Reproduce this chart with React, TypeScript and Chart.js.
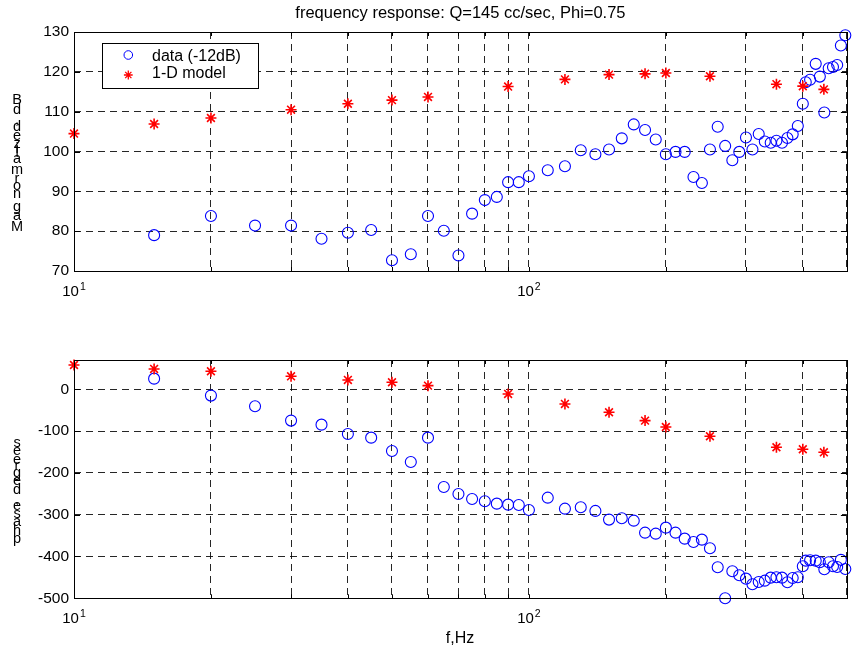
import React, { useEffect, useRef } from "react";
import { Chart, registerables } from "chart.js";

Chart.register(...registerables);

// ---------- data ----------
const dataFreq = [15, 20, 25, 30, 35, 40, 45, 50, 55, 60, 65, 70, 75, 80, 85, 90, 95, 100, 110, 120, 130, 140, 150, 160, 170, 180, 190, 200, 210, 220, 230, 240, 250, 260, 270, 280, 290, 300, 310, 320, 330, 340, 350, 360, 370, 380, 390, 400, 406, 415, 427, 436, 446, 456, 466, 476, 485, 496];
const dataMag = [79.0, 83.8, 81.4, 81.4, 78.1, 79.6, 80.3, 72.7, 74.2, 83.8, 80.1, 73.9, 84.4, 87.8, 88.6, 92.3, 92.3, 93.8, 95.3, 96.3, 100.3, 99.3, 100.5, 103.3, 106.8, 105.4, 103.0, 99.3, 99.9, 99.9, 93.6, 92.1, 100.5, 106.2, 101.4, 97.8, 99.9, 103.5, 100.5, 104.4, 102.5, 102.2, 102.7, 102.2, 103.4, 104.3, 106.4, 112.0, 117.4, 118.0, 122.0, 118.8, 109.8, 120.9, 121.2, 121.7, 126.6, 129.2];
const dataPhase = [25.4, -15.2, -40.7, -75, -84.6, -106.9, -115.7, -147.6, -173.9, -115.7, -233.7, -250.5, -262.5, -268, -273.6, -276, -276.8, -288.7, -259.3, -285.6, -282.3, -291, -311.8, -308.6, -314.3, -343, -345.4, -331, -343, -357.3, -365.3, -359.7, -380.4, -425.8, -500, -435.4, -444.9, -453, -466.5, -461, -457.8, -450.6, -449.7, -450.6, -461.6, -451.4, -449.7, -423.4, -410, -409, -410, -413.8, -430.6, -413.8, -423.4, -425, -408, -429.8];

const modelFreq = [10, 15, 20, 30, 40, 50, 60, 90, 120, 150, 180, 200, 250, 350, 400, 445];
const modelMag = [104.5, 106.9, 108.4, 110.5, 112.0, 112.9, 113.7, 116.3, 118.1, 119.3, 119.5, 119.7, 118.9, 116.9, 116.4, 115.6];
const modelPhase = [58, 48.6, 43, 31, 22.3, 16.7, 8.7, -11.2, -35.1, -55, -75, -90.2, -112.5, -138.8, -143.6, -150.8];

const freqGrid = [10, 20, 30, 40, 50, 60, 70, 80, 90, 100, 200, 300, 400, 500];
const freqLabels = [10, 100];
const magTicks = [70, 80, 90, 100, 110, 120, 130];
const phaseTicks = [-500, -400, -300, -200, -100, 0];

const titleText = "frequency response: Q=145 cc/sec, Phi=0.75";
const magLabel = "Mag normalized, dB";
const phaseLabel = "phase, degrees";
const xLabel = "f,Hz";
const legendLabels = ["data (-12dB)", "1-D model"];

const FONT = "'Liberation Sans', Arial, sans-serif";
const BLUE = "#0000ff";
const RED = "#ff0000";

function stackedLabel(ctx: CanvasRenderingContext2D, text: string, x: number, yFirst: number, yLast: number, size: number) {
  ctx.save();
  ctx.font = `${size}px ${FONT}`;
  ctx.fillStyle = "#000";
  ctx.textAlign = "center";
  ctx.textBaseline = "middle";
  const chars = Array.from(text);
  const w = chars.map((c) => ctx.measureText(c).width);
  const raw: number[] = [0];
  for (let i = 1; i < chars.length; i++) raw.push(raw[i - 1] + (w[i - 1] + w[i]) / 2);
  const total = raw[raw.length - 1];
  const k = (yFirst - yLast) / total;
  chars.forEach((c, i) => {
    if (c !== " ") ctx.fillText(c, x, yFirst - raw[i] * k);
  });
  ctx.restore();
}

function drawStar(ctx: CanvasRenderingContext2D, x: number, y: number, r: number) {
  ctx.beginPath();
  ctx.moveTo(x - r, y);
  ctx.lineTo(x + r, y);
  ctx.moveTo(x, y - r);
  ctx.lineTo(x, y + r);
  const d = r * Math.SQRT1_2;
  ctx.moveTo(x - d, y - d);
  ctx.lineTo(x + d, y + d);
  ctx.moveTo(x - d, y + d);
  ctx.lineTo(x + d, y - d);
  ctx.stroke();
}

function makeDecor(opts: { top: boolean }) {
  return {
    id: "decor" + (opts.top ? "Top" : "Bottom"),
    afterDraw(chart: any) {
      const ctx: CanvasRenderingContext2D = chart.ctx;
      const a = chart.chartArea;
      const xs = chart.scales.x;
      const ys = chart.scales.y;
      ctx.save();
      // inner tick marks
      ctx.strokeStyle = "#000";
      ctx.lineWidth = 1;
      ctx.beginPath();
      const yt = opts.top ? magTicks : phaseTicks;
      yt.forEach((v) => {
        const py = Math.round(ys.getPixelForValue(v)) + 0.5;
        ctx.moveTo(a.left, py);
        ctx.lineTo(a.left + 6, py);
        ctx.moveTo(a.right, py);
        ctx.lineTo(a.right - 6, py);
      });
      freqGrid.forEach((v) => {
        const px = Math.round(xs.getPixelForValue(v)) + 0.5;
        ctx.moveTo(px, a.bottom);
        ctx.lineTo(px, a.bottom - 4);
        ctx.moveTo(px, a.top);
        ctx.lineTo(px, a.top + 4);
      });
      ctx.stroke();
      // box
      ctx.strokeRect(Math.round(a.left) + 0.5, Math.round(a.top) + 0.5, Math.round(a.right - a.left), Math.round(a.bottom - a.top));

      // x tick labels 10^n
      freqLabels.forEach((v) => {
        const px = xs.getPixelForValue(v);
        const exp = String(Math.round(Math.log10(v)));
        ctx.font = `15px ${FONT}`;
        const wb = ctx.measureText("10").width;
        ctx.font = `10.5px ${FONT}`;
        const we = ctx.measureText(exp).width;
        const start = px - (wb + we + 1) / 2;
        const base = a.bottom + 24.7;
        ctx.fillStyle = "#000";
        ctx.textAlign = "left";
        ctx.textBaseline = "alphabetic";
        ctx.font = `15px ${FONT}`;
        ctx.fillText("10", start, base);
        ctx.font = `10.5px ${FONT}`;
        ctx.fillText(exp, start + wb + 1, base - 6);
      });

      if (opts.top) {
        // title
        ctx.font = `16.5px ${FONT}`;
        ctx.textAlign = "center";
        ctx.textBaseline = "alphabetic";
        ctx.fillStyle = "#000";
        ctx.fillText(titleText, (a.left + a.right) / 2, 18.3);
        // y label
        stackedLabel(ctx, magLabel, 17, 226.7, 100.2, 14.5);
        // legend
        const lx = 102, ly = 43, lw = 156, lh = 45;
        ctx.fillStyle = "#fff";
        ctx.fillRect(lx, ly, lw, lh);
        ctx.strokeStyle = "#000";
        ctx.lineWidth = 1;
        ctx.strokeRect(lx + 0.5, ly + 0.5, lw, lh);
        ctx.strokeStyle = BLUE;
        ctx.beginPath();
        ctx.arc(128.3, 55, 4.3, 0, Math.PI * 2);
        ctx.stroke();
        ctx.strokeStyle = RED;
        ctx.lineWidth = 1.3;
        drawStar(ctx, 128.3, 75, 4.4);
        ctx.fillStyle = "#000";
        ctx.font = `16px ${FONT}`;
        ctx.textAlign = "left";
        ctx.textBaseline = "alphabetic";
        ctx.fillText(legendLabels[0], 152, 61.3);
        ctx.fillText(legendLabels[1], 152, 77.6);
      } else {
        ctx.font = `16px ${FONT}`;
        ctx.textAlign = "center";
        ctx.textBaseline = "alphabetic";
        ctx.fillStyle = "#000";
        ctx.fillText(xLabel, 460, 343);
        stackedLabel(ctx, phaseLabel, 17, 239, 143.2, 14.5);
      }
      ctx.restore();
    },
  };
}

function buildConfig(top: boolean, canvasH: number, padTop: number, chartBottom: number): any {
  const circles = dataFreq.map((f, i) => ({ x: f, y: top ? dataMag[i] : dataPhase[i] }));
  const stars = modelFreq.map((f, i) => ({ x: f, y: top ? modelMag[i] : modelPhase[i] }));
  const yTicks = top ? magTicks : phaseTicks;
  return {
    type: "scatter",
    data: {
      datasets: [
        {
          label: legendLabels[1],
          data: stars,
          pointStyle: "star",
          pointRadius: 5.5,
          borderColor: RED,
          backgroundColor: RED,
          borderWidth: 1.6,
          clip: false,
          order: 0,
        },
        {
          label: legendLabels[0],
          data: circles,
          pointStyle: "circle",
          pointRadius: 5.5,
          borderColor: BLUE,
          backgroundColor: "rgba(0,0,0,0)",
          borderWidth: 1.1,
          clip: false,
          order: 1,
        },
      ],
    },
    options: {
      responsive: false,
      animation: false,
      devicePixelRatio: 1,
      layout: { padding: { top: padTop, left: 0, right: 3.5, bottom: 0 } },
      plugins: { legend: { display: false }, tooltip: { enabled: false }, title: { display: false } },
      events: [],
      scales: {
        x: {
          type: "logarithmic",
          min: 10,
          max: 500,
          afterBuildTicks: (s: any) => {
            s.ticks = freqGrid.map((v) => ({ value: v }));
          },
          afterFit: (s: any) => {
            s.height = canvasH - chartBottom;
          },
          ticks: { display: false },
          grid: { color: "rgba(0,0,0,0.85)", lineWidth: 1, drawTicks: false },
          border: { display: false, dash: [7, 5] },
        },
        y: {
          type: "linear",
          min: top ? 70 : -500,
          max: top ? 130 : 70,
          afterBuildTicks: (s: any) => {
            s.ticks = yTicks.map((v) => ({ value: v }));
          },
          afterFit: (s: any) => {
            s.width = 74;
          },
          ticks: {
            padding: 5,
            color: "#000",
            font: { family: FONT, size: 15.5 },
            callback: (v: any) => String(v),
          },
          grid: { color: "rgba(0,0,0,0.85)", lineWidth: 1, drawTicks: false },
          border: { display: false, dash: [7, 5] },
        },
      },
    },
    plugins: [makeDecor({ top })],
  };
}

function ChartCanvas(props: { top: boolean; y: number; h: number; padTop: number; chartBottom: number }) {
  const ref = useRef<HTMLCanvasElement>(null);
  useEffect(() => {
    if (!ref.current) return;
    const chart = new Chart(ref.current, buildConfig(props.top, props.h, props.padTop, props.chartBottom));
    return () => chart.destroy();
  }, []);
  return (
    <canvas
      ref={ref}
      width={854}
      height={props.h}
      style={{ position: "absolute", left: 0, top: props.y, width: 854, height: props.h }}
    />
  );
}

export default function App() {
  return (
    <div style={{ position: "absolute", left: 0, top: 0, width: 854, height: 650, background: "#fff", overflow: "hidden" }}>
      <ChartCanvas top={true} y={0} h={300} padTop={32} chartBottom={271} />
      <ChartCanvas top={false} y={300} h={350} padTop={60} chartBottom={298.3} />
    </div>
  );
}
